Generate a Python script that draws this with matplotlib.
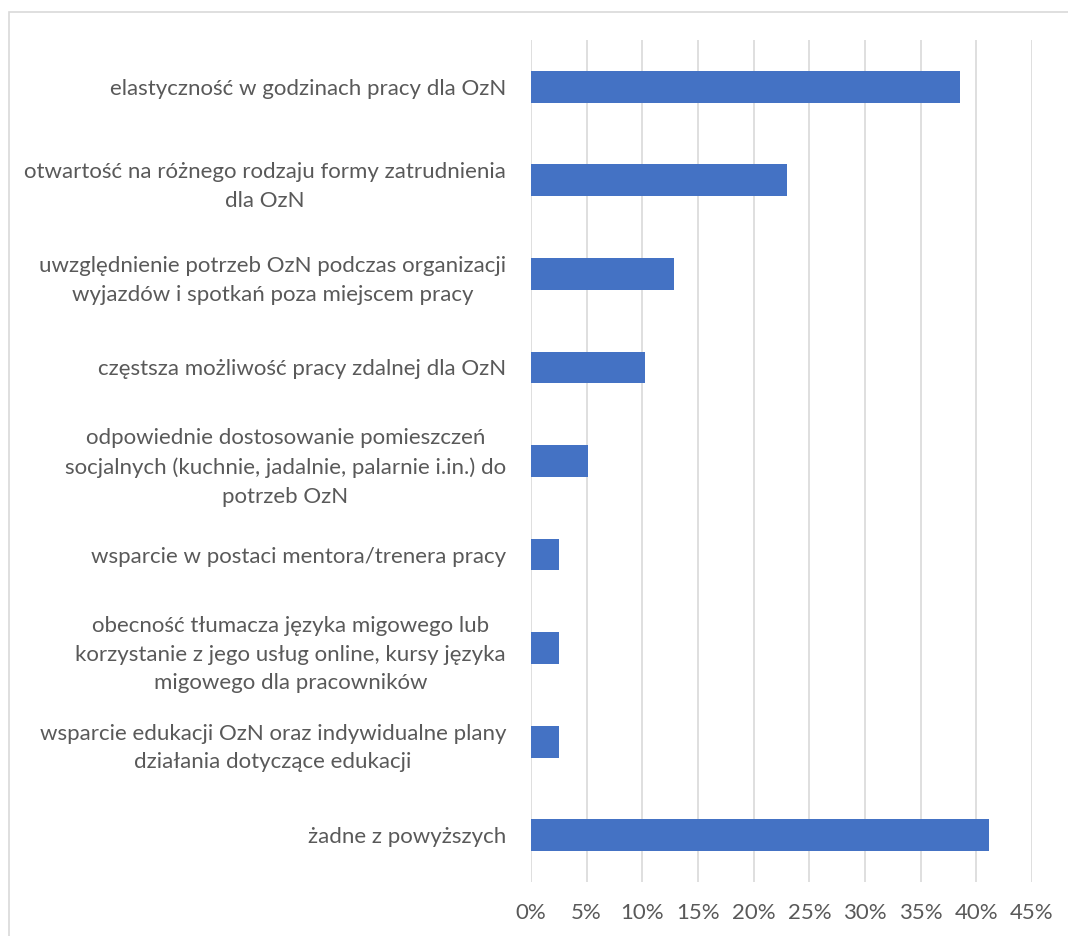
import matplotlib
matplotlib.use("Agg")
import matplotlib.pyplot as plt
from matplotlib.patches import Rectangle
from matplotlib.ticker import FuncFormatter

categories = [
    "elastyczność w godzinach pracy dla OzN",
    "otwartość na różnego rodzaju formy zatrudnienia\ndla OzN",
    "uwzględnienie potrzeb OzN podczas organizacji\nwyjazdów i spotkań poza miejscem pracy",
    "częstsza możliwość pracy zdalnej dla OzN",
    "odpowiednie dostosowanie pomieszczeń\nsocjalnych (kuchnie, jadalnie, palarnie i.in.) do\npotrzeb OzN",
    "wsparcie w postaci mentora/trenera pracy",
    "obecność tłumacza języka migowego lub\nkorzystanie z jego usług online, kursy języka\nmigowego dla pracowników",
    "wsparcie edukacji OzN oraz indywidualne plany\ndziałania dotyczące edukacji",
    "żadne z powyższych",
]
values = [38.5, 23.0, 12.8, 10.2, 5.1, 2.5, 2.5, 2.5, 41.1]
x_ticks = [0, 5, 10, 15, 20, 25, 30, 35, 40, 45]

plt.rcParams['font.family'] = ['Lato', 'DejaVu Sans']
text_color = '#595959'

fig = plt.figure(figsize=(10.68, 9.36), dpi=100)
ax = fig.add_axes([531/1068, 1-882/936, (1032-531)/1068, (882-40)/936])

ypos = list(range(len(categories)))
ax.barh(ypos, values, height=0.34, color='#4472C4', zorder=3)
ax.set_yticks(ypos)
ax.set_yticklabels(categories, fontsize=16, color=text_color, multialignment='center', linespacing=1.55)
ax.set_ylim(len(categories)-0.5, -0.5)
ax.set_xlim(0, 45)
ax.set_xticks(x_ticks)
ax.xaxis.set_major_formatter(FuncFormatter(lambda v, p: f"{int(v)}%"))
ax.tick_params(axis='x', labelsize=16, colors=text_color, length=0, pad=15)
ax.tick_params(axis='y', length=0, pad=18)
ax.grid(axis='x', color='#d9d9d9', linewidth=1.2, zorder=0)
for s in ax.spines.values():
    s.set_visible(False)

fig.patches.append(Rectangle((9/1068, -0.1), 1.2, 1-12/936+0.1, transform=fig.transFigure,
                             fill=False, edgecolor='#d9d9d9', linewidth=1.2))

fig.savefig("out.png", dpi=100, facecolor='white')
